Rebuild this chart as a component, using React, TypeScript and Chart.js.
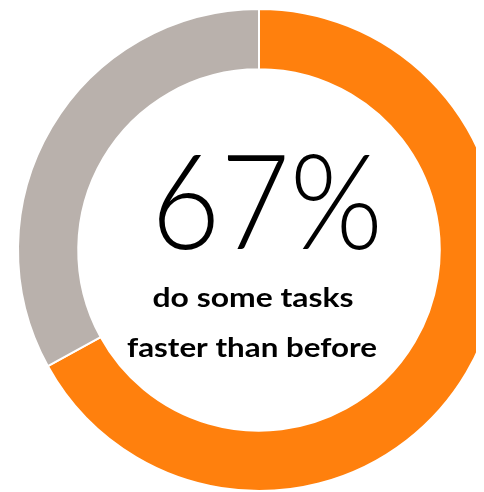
import React, { useEffect, useRef } from "react";
import { Chart, registerables } from "chart.js";

Chart.register(...registerables);

const labels = ["Faster", "Not faster"];
const values = [67, 33];
const colors = ["#FF800D", "#B9B1AC"];
const centerValue = "67%";
const captionLines = ["do some tasks", "faster than before"];

function fitText(ctx: any, text: string, x: number, y: number, width: number) {
  const w = ctx.measureText(text).width;
  const sx = width / w;
  ctx.save();
  ctx.translate(x, y);
  ctx.scale(sx, 1);
  ctx.fillText(text, 0, 0);
  ctx.restore();
}

const centerTextPlugin = {
  id: "centerText",
  afterDraw(chart: any) {
    const meta = chart.getDatasetMeta(0);
    const arc = meta.data[0];
    if (!arc) return;
    const cx = arc.x;
    const cy = arc.y;
    const ctx = chart.ctx;
    ctx.save();
    ctx.fillStyle = "#000";
    ctx.textAlign = "center";
    ctx.textBaseline = "alphabetic";
    ctx.font = "300 132px Lato, 'DejaVu Sans', sans-serif";
    fitText(ctx, centerValue, cx + 8, cy - 1, 232);
    ctx.font = "bold 27px Lato, 'DejaVu Sans', sans-serif";
    fitText(ctx, captionLines[0], cx - 6, cy + 57, 201);
    fitText(ctx, captionLines[1], cx - 7, cy + 107, 250);
    ctx.restore();
  },
};

export default function App() {
  const ref = useRef<HTMLCanvasElement | null>(null);
  useEffect(() => {
    if (!ref.current) return;
    const chart = new Chart(ref.current, {
      type: "doughnut",
      data: {
        labels,
        datasets: [
          {
            data: values,
            backgroundColor: colors,
            borderColor: "#ffffff",
            borderWidth: 2,
          },
        ],
      },
      options: {
        responsive: false,
        animation: false,
        cutout: "75%",
        layout: { padding: 0 },
        plugins: {
          legend: { display: false },
          tooltip: { enabled: false },
        },
      },
      plugins: [centerTextPlugin],
    });
    return () => chart.destroy();
  }, []);
  return (
    <div style={{ width: 476, height: 484, overflow: "hidden" }}>
      <canvas ref={ref} width={502} height={484} style={{ display: "block" }} />
    </div>
  );
}
